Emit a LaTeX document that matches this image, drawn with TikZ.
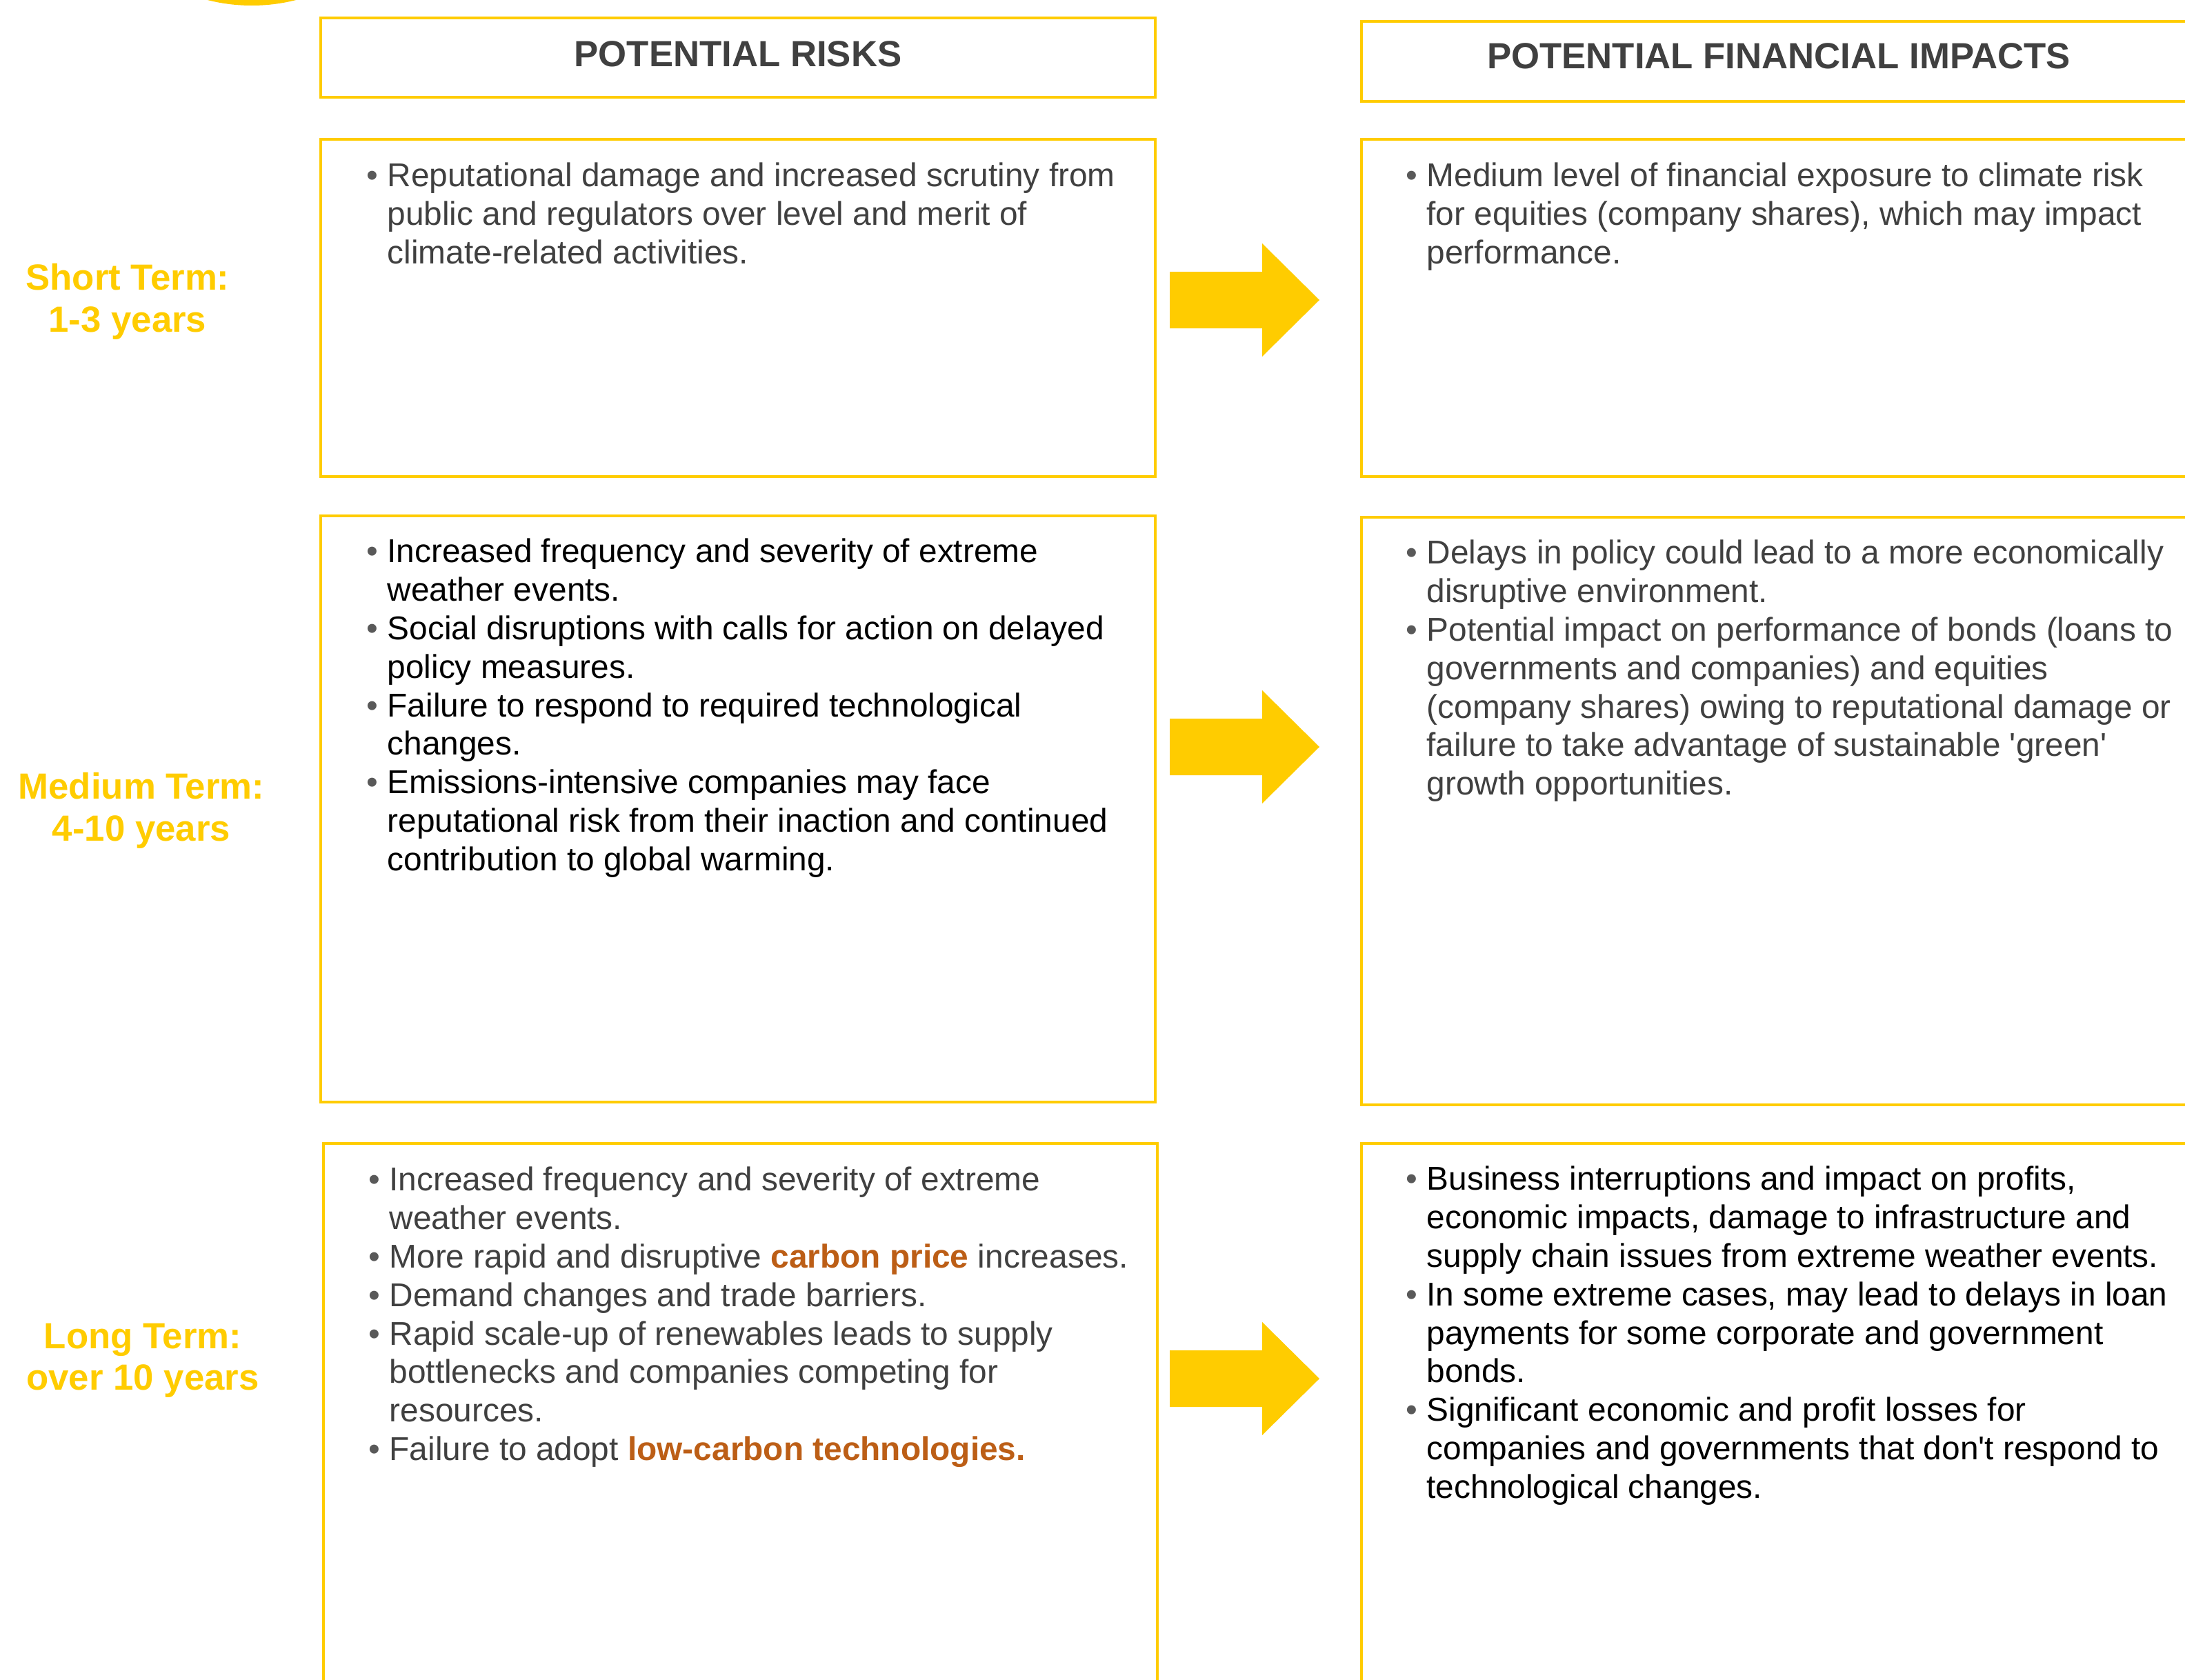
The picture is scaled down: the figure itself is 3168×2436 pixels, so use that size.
\documentclass[tikz,border=0pt]{standalone}
\usepackage{fontspec}
\setmainfont{Liberation Sans}
\definecolor{termyellow}{HTML}{FFCC00}
\definecolor{textgrey}{HTML}{404040}
\definecolor{bulletgrey}{HTML}{595959}
\definecolor{carbonorange}{HTML}{BC5E16}
\newcommand{\itembul}{\makebox[8.5pt][l]{\color{bulletgrey}\textbullet}}
\newcommand{\contline}{\hspace*{8.5pt}}
\newcommand{\hl}[1]{\textcolor{carbonorange}{\bfseries #1}}
\tikzset{
  box/.style={draw=termyellow, line width=1.1pt},
  head/.style={font=\fontsize{15}{17}\selectfont\bfseries, text=textgrey, anchor=base, inner sep=0},
  term/.style={font=\fontsize{15}{17.1}\selectfont\bfseries, text=termyellow, align=center,
    anchor=north, inner sep=0, execute at begin node=\strut},
  items/.style={font=\fontsize{13.6}{15.9}\selectfont, align=left, anchor=north west,
    inner sep=0, execute at begin node=\strut},
}
\begin{document}
\begin{tikzpicture}[x=0.01cm, y=-0.01cm]
\clip (0,0) rectangle (3168,2436);
\fill[white] (0,0) rectangle (3168,2436);

\fill[termyellow] (365,-252) circle (260);

\draw[box] (465,26) rectangle (1675,141);
\draw[box] (1974,31) rectangle (3184,147);
\node[head] (hdrrisk) at (1070,97) {POTENTIAL RISKS};
\node[head] (hdrimpact) at (2579,100) {POTENTIAL FINANCIAL IMPACTS};

\draw[box] (465,202) rectangle (1675,691);
\draw[box] (1974,202) rectangle (3184,691);
\draw[box] (465,748) rectangle (1675,1598);
\draw[box] (1974,750) rectangle (3184,1602);
\draw[box] (469,1658) rectangle (1678,2500);
\draw[box] (1974,1658) rectangle (3184,2500);

\node[term] (termshort) at (185,382) {Short Term:\\1-3 years};
\node[term] (termmedium) at (205,1120) {Medium Term:\\4-10 years};
\node[term] (termlong) at (207,1918) {Long Term:\\over 10 years};

\foreach \ay in {435,1083,1999}
  \fill[termyellow] (1696,\ay-41) -- (1830,\ay-41) -- (1830,\ay-82) -- (1913,\ay)
    -- (1830,\ay+82) -- (1830,\ay+41) -- (1696,\ay+41) -- cycle;

\node[items, text=textgrey] (riskshort) at (531,235) {%
\itembul Reputational damage and increased scrutiny from\\
\contline public and regulators over level and merit of\\
\contline climate-related activities.};

\node[items, text=textgrey] (impactshort) at (2038,235) {%
\itembul Medium level of financial exposure to climate risk\\
\contline for equities (company shares), which may impact\\
\contline performance.};

\node[items, text=black] (riskmedium) at (531,780) {%
\itembul Increased frequency and severity of extreme\\
\contline weather events.\\
\itembul Social disruptions with calls for action on delayed\\
\contline policy measures.\\
\itembul Failure to respond to required technological\\
\contline changes.\\
\itembul Emissions-intensive companies may face\\
\contline reputational risk from their inaction and continued\\
\contline contribution to global warming.};

\node[items, text=textgrey] (impactmedium) at (2038,782) {%
\itembul Delays in policy could lead to a more economically\\
\contline disruptive environment.\\
\itembul Potential impact on performance of bonds (loans to\\
\contline governments and companies) and equities\\
\contline (company shares) owing to reputational damage or\\
\contline failure to take advantage of sustainable \textquotesingle green\textquotesingle\\
\contline growth opportunities.};

\node[items, text=textgrey] (risklong) at (534,1691) {%
\itembul Increased frequency and severity of extreme\\
\contline weather events.\\
\itembul More rapid and disruptive \hl{carbon price} increases.\\
\itembul Demand changes and trade barriers.\\
\itembul Rapid scale-up of renewables leads to supply\\
\contline bottlenecks and companies competing for\\
\contline resources.\\
\itembul Failure to adopt \hl{low-carbon technologies.}};

\node[items, text=black] (impactlong) at (2038,1690) {%
\itembul Business interruptions and impact on profits,\\
\contline economic impacts, damage to infrastructure and\\
\contline supply chain issues from extreme weather events.\\
\itembul In some extreme cases, may lead to delays in loan\\
\contline payments for some corporate and government\\
\contline bonds.\\
\itembul Significant economic and profit losses for\\
\contline companies and governments that don\textquotesingle t respond to\\
\contline technological changes.};
\end{tikzpicture}
\end{document}
